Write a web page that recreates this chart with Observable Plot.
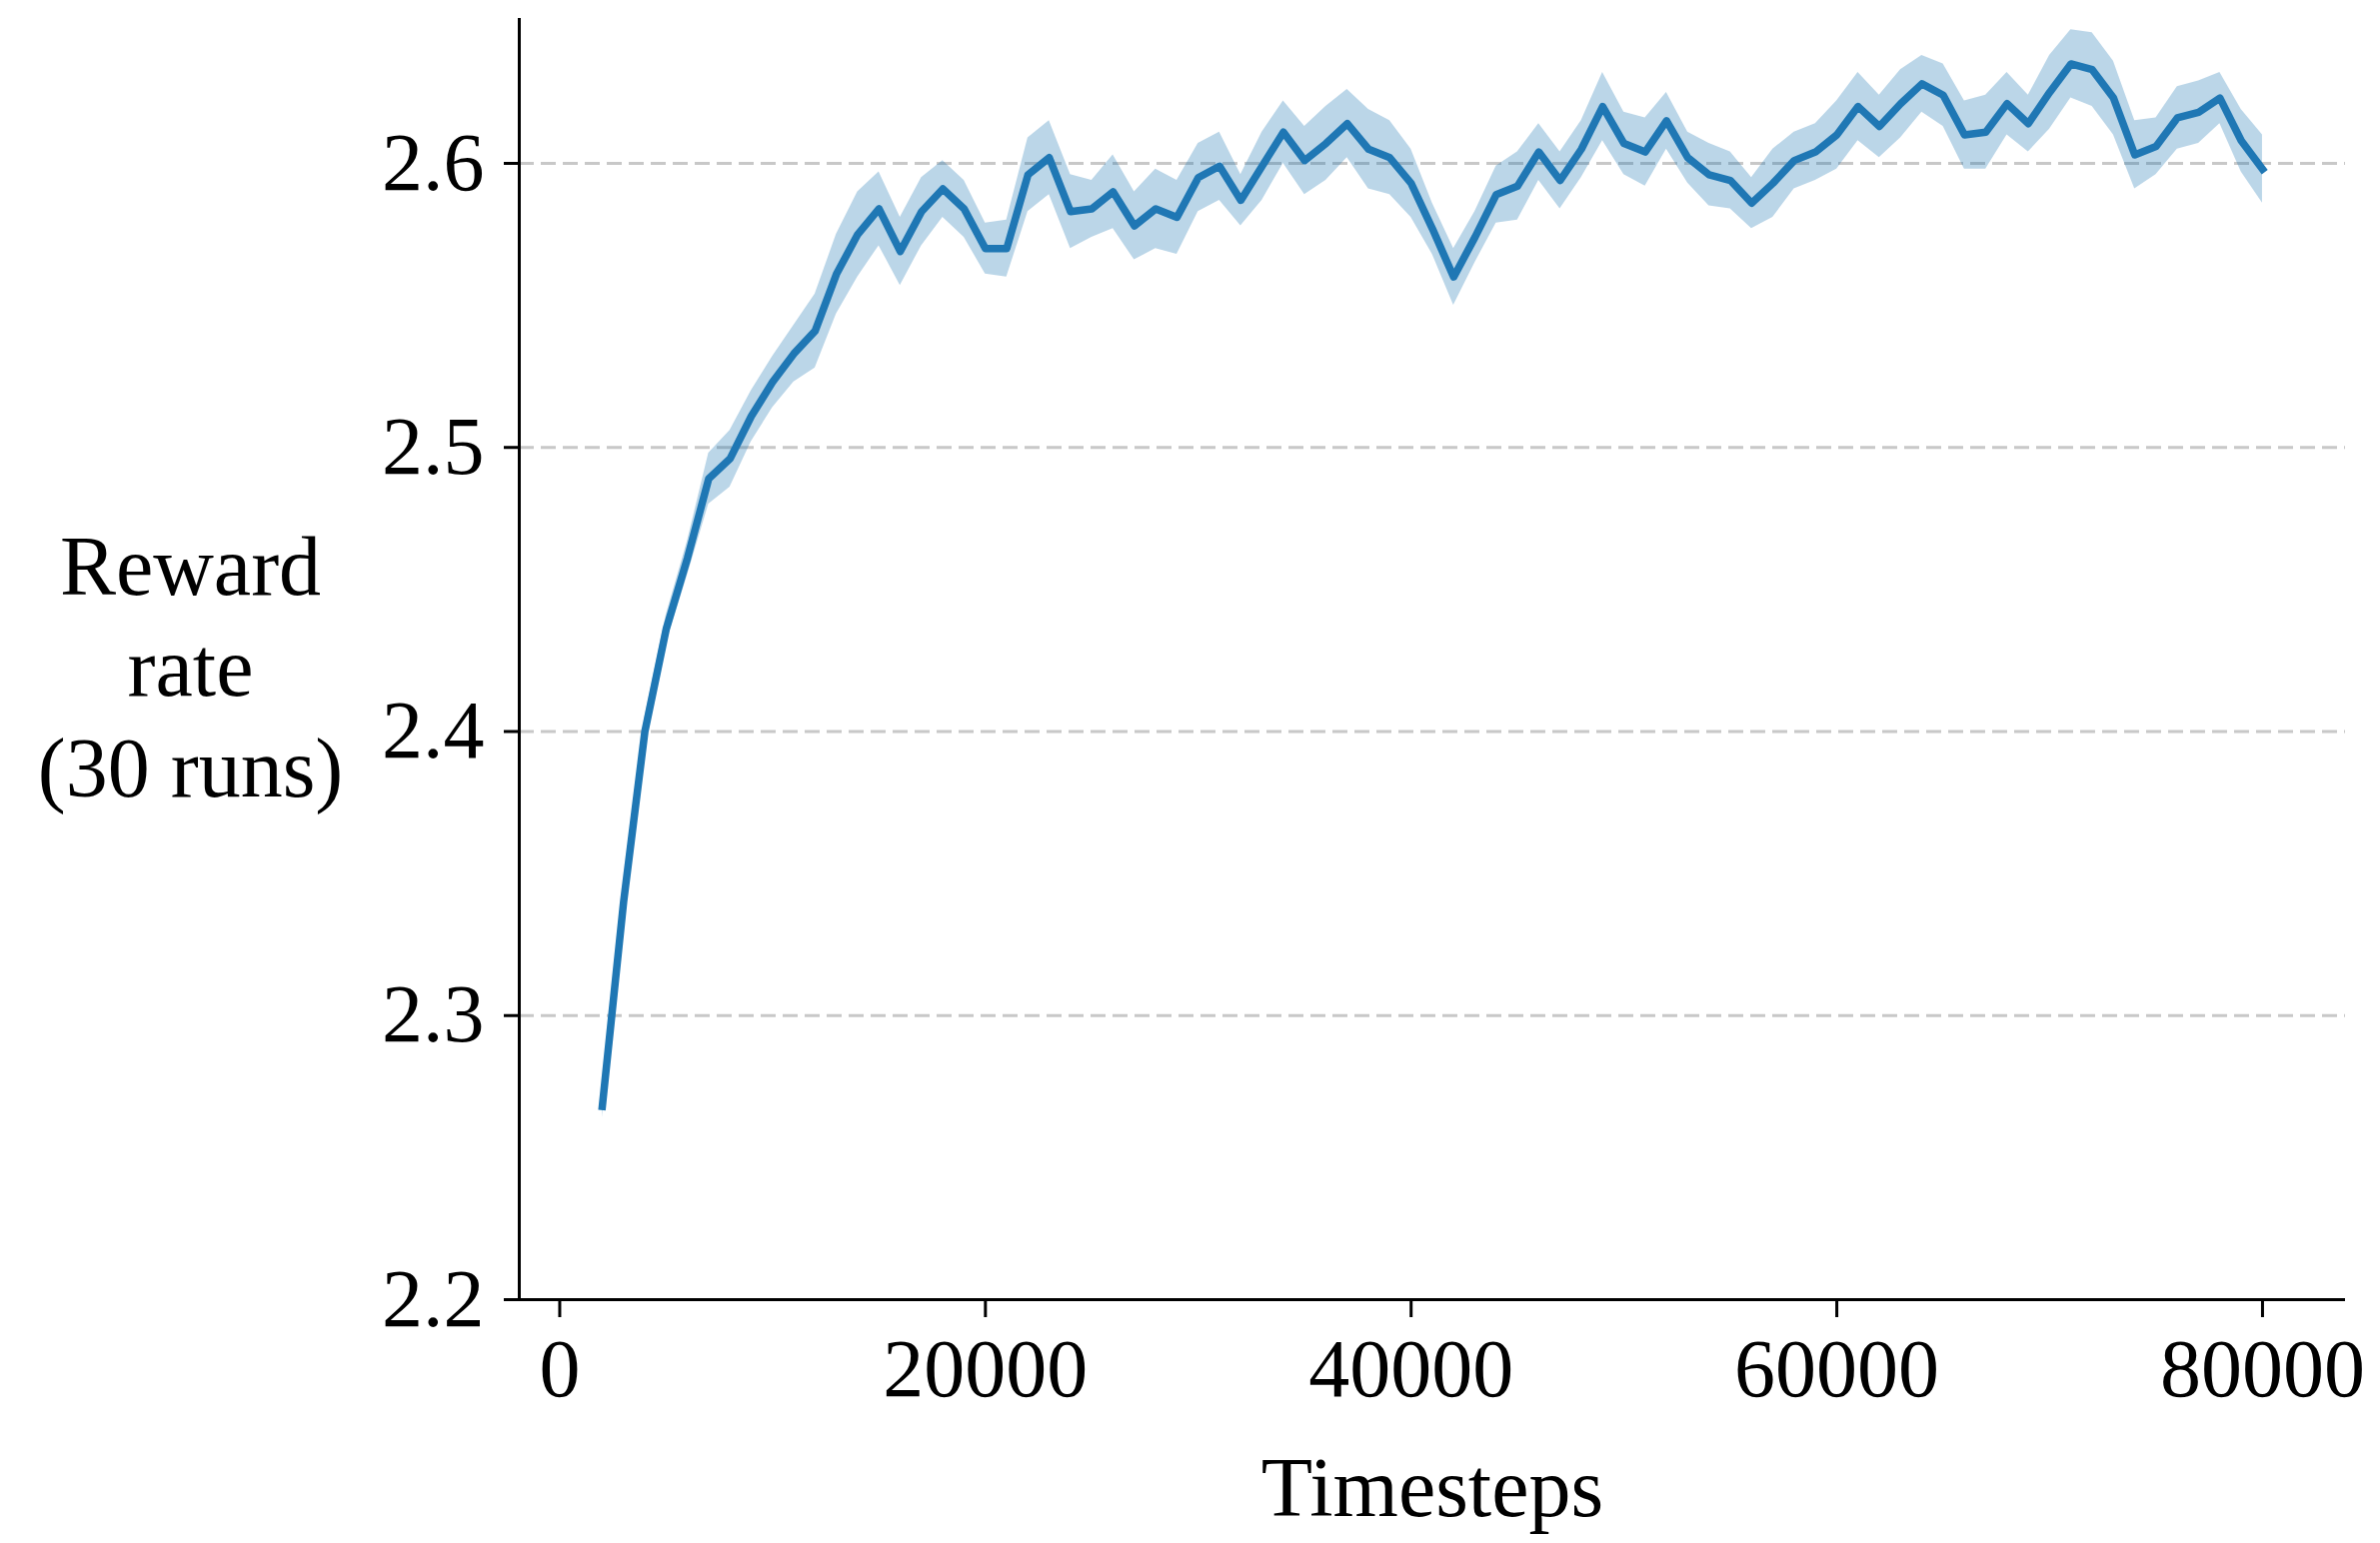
<!DOCTYPE html>
<html>
<head>
<meta charset="utf-8">
<script src="https://cdn.jsdelivr.net/npm/d3@7"></script>
<script src="https://cdn.jsdelivr.net/npm/@observablehq/plot@0.6"></script>
<style>
  html, body { margin: 0; padding: 0; background: #fff; }
  #chart svg { display: block; }
</style>
</head>
<body>
<div id="chart"></div>
<script>
// Evaluation steps (every 1000 timesteps)
const timesteps = [
  2000, 3000, 4000, 5000, 6000, 7000, 8000, 9000, 10000, 11000,
  12000, 13000, 14000, 15000, 16000, 17000, 18000, 19000, 20000, 21000,
  22000, 23000, 24000, 25000, 26000, 27000, 28000, 29000, 30000, 31000,
  32000, 33000, 34000, 35000, 36000, 37000, 38000, 39000, 40000, 41000,
  42000, 43000, 44000, 45000, 46000, 47000, 48000, 49000, 50000, 51000,
  52000, 53000, 54000, 55000, 56000, 57000, 58000, 59000, 60000, 61000,
  62000, 63000, 64000, 65000, 66000, 67000, 68000, 69000, 70000, 71000,
  72000, 73000, 74000, 75000, 76000, 77000, 78000, 79000, 80000
];

// Mean reward rate over 30 runs
const meanReward = [
  2.268, 2.340, 2.400, 2.436, 2.461, 2.489, 2.496, 2.511, 2.523, 2.533,
  2.541, 2.561, 2.575, 2.584, 2.569, 2.583, 2.591, 2.584, 2.570, 2.570,
  2.596, 2.602, 2.583, 2.584, 2.590, 2.578, 2.584, 2.581, 2.595, 2.599,
  2.587, 2.599, 2.611, 2.601, 2.607, 2.614, 2.605, 2.602, 2.593, 2.577,
  2.560, 2.574, 2.589, 2.592, 2.604, 2.594, 2.605, 2.620, 2.607, 2.604,
  2.615, 2.602, 2.596, 2.594, 2.586, 2.593, 2.601, 2.604, 2.610, 2.620,
  2.613, 2.621, 2.628, 2.624, 2.610, 2.611, 2.621, 2.614, 2.625, 2.635,
  2.633, 2.623, 2.603, 2.606, 2.616, 2.618, 2.623, 2.608, 2.598
];

// Half-width of the shaded uncertainty band
const bandHalfWidth = [
  0.004, 0.004, 0.005, 0.005, 0.006, 0.009, 0.010, 0.009, 0.009, 0.010,
  0.013, 0.014, 0.015, 0.013, 0.012, 0.012, 0.010, 0.010, 0.009, 0.010,
  0.013, 0.013, 0.013, 0.010, 0.013, 0.012, 0.014, 0.013, 0.012, 0.012,
  0.009, 0.012, 0.011, 0.012, 0.013, 0.012, 0.014, 0.013, 0.012, 0.009,
  0.010, 0.009, 0.010, 0.012, 0.010, 0.010, 0.010, 0.012, 0.011, 0.012,
  0.010, 0.009, 0.011, 0.010, 0.009, 0.012, 0.010, 0.010, 0.012, 0.012,
  0.011, 0.012, 0.010, 0.011, 0.012, 0.013, 0.011, 0.010, 0.013, 0.012,
  0.013, 0.013, 0.012, 0.010, 0.011, 0.011, 0.009, 0.011, 0.012
];

const xTicks = [0, 20000, 40000, 60000, 80000];
const yTicks = [2.2, 2.3, 2.4, 2.5, 2.6];
const gridValues = [2.3, 2.4, 2.5, 2.6];
const xDomain = [-1900, 83900];
const yDomain = [2.2, 2.651];
const xLabel = "Timesteps";
const yLabel = "Reward\nrate\n(30 runs)";

const rows = timesteps.map((t, i) => ({
  t,
  mean: meanReward[i],
  lo: meanReward[i] - bandHalfWidth[i],
  hi: meanReward[i] + bandHalfWidth[i]
}));

const blue = "#1f77b4";

const chart = Plot.plot({
  width: 2381,
  height: 1544,
  marginLeft: 519,
  marginRight: 35,
  marginTop: 18,
  marginBottom: 244,
  style: {
    fontFamily: "'Liberation Serif', 'Times New Roman', serif",
    fontSize: "82px",
    color: "#000",
    background: "#fff"
  },
  x: { domain: xDomain, label: null },
  y: { domain: yDomain, label: null },
  marks: [
    Plot.gridY(gridValues, {
      stroke: "#c8c8c8", strokeOpacity: 1, strokeWidth: 3, strokeDasharray: "15,7"
    }),
    Plot.areaY(rows, { x: "t", y1: "lo", y2: "hi", fill: blue, fillOpacity: 0.3 }),
    Plot.lineY(rows, { x: "t", y: "mean", stroke: blue, strokeWidth: 7.5, strokeLinecap: "square" }),
    // left and bottom spines
    Plot.ruleX([xDomain[0]], { stroke: "#000", strokeWidth: 3 }),
    Plot.ruleY([yDomain[0]], { stroke: "#000", strokeWidth: 3 }),
    Plot.axisX({
      ticks: xTicks, tickFormat: "d", tickSize: 18, tickPadding: 20,
      strokeWidth: 3, fontSize: 82, label: null
    }),
    Plot.axisY({
      ticks: yTicks, tickFormat: ".1f", tickSize: 15, tickPadding: 20,
      strokeWidth: 3, fontSize: 82, label: null
    }),
    Plot.text([yLabel], {
      frameAnchor: "left", dx: -329, dy: 4, textAnchor: "middle",
      lineAnchor: "middle", lineHeight: 1.2, fontSize: 84, fill: "#000"
    }),
    Plot.text([xLabel], {
      frameAnchor: "bottom", dy: 190, textAnchor: "middle",
      lineAnchor: "middle", fontSize: 84, fill: "#000"
    })
  ]
});

document.getElementById("chart").appendChild(chart);
</script>
</body>
</html>
